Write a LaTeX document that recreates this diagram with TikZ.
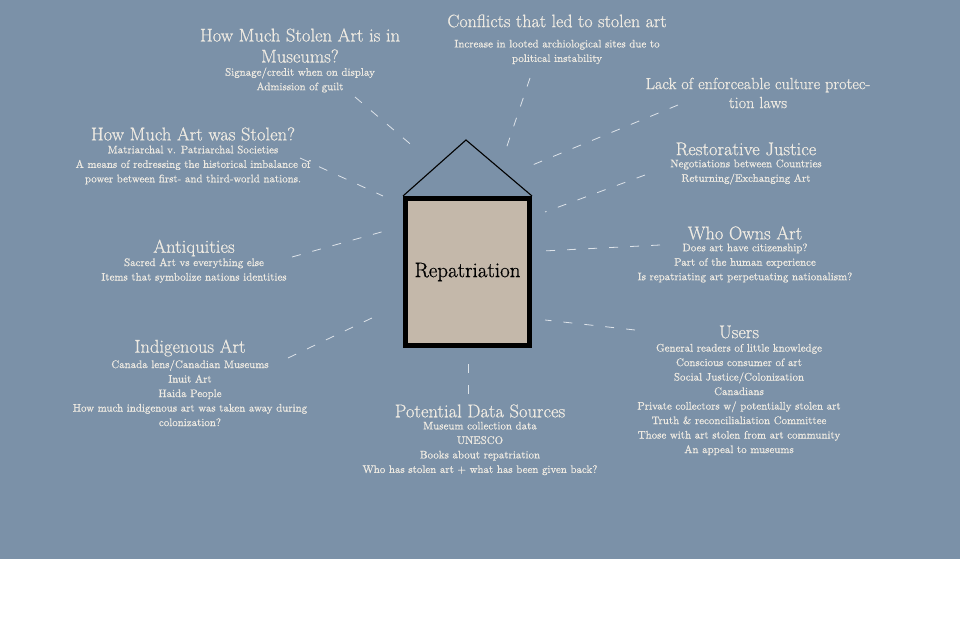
\documentclass[tikz,border=0pt]{standalone}
\usepackage{fontspec}
\setmainfont{Latin Modern Roman}[UprightFeatures={FakeBold=0.7}]
\definecolor{bg}{RGB}{123,145,168}
\definecolor{txt}{RGB}{238,234,226}
\definecolor{boxfill}{RGB}{196,184,170}
\tikzset{
  ttl/.style={text=txt, font=\fontsize{18.5}{21}\selectfont, align=center, inner sep=0pt},
  ttlsmall/.style={ttl, font=\fontsize{16.2}{19}\selectfont},
  sub/.style={text=txt, font=\fontsize{10.9}{14.5}\selectfont, align=center, inner sep=0pt},
  link/.style={draw=white, draw opacity=0.75, line width=0.8pt, dash pattern=on 9pt off 12pt},
  frame/.style={draw=black, line width=5pt, fill=boxfill, minimum width=124pt, minimum height=147pt, inner sep=0pt, font=\fontsize{21}{24}\selectfont, text=black},
}
\begin{document}
\begin{tikzpicture}[x=1pt,y=-1pt]
\useasboundingbox (0,0) rectangle (960,639);
\fill[white] (0,0) rectangle (960,639);
\fill[bg] (0,0) rectangle (960,559);

% central frame
\node[frame] (rep) at (467.5,272) {Repatriation};
\coordinate (apex) at (466,140);
\draw[black, line width=1.1pt] (rep.north west) -- (apex) -- (rep.north east);

% topics
\node[ttl] (t1) at (300,45.5) {How Much Stolen Art is in\\Museums?};
\node[sub] (s1) at (300,80) {Signage/credit when on display\\Admission of guilt};

\node[ttl, font=\fontsize{18}{21}\selectfont] (t2) at (557,21) {Conflicts that led to stolen art};
\node[sub] (s2) at (557,52) {Increase in looted archiological sites due to\\political instability};

\node[ttlsmall] (t3) at (758,93) {Lack of enforceable culture protec-\\tion laws};

\node[ttl] (t4) at (746,149) {Restorative Justice};
\node[sub] (s4) at (746,172) {Negotiations between Countries\\Returning/Exchanging Art};

\node[ttl] (t5) at (745,233) {Who Owns Art};
\node[sub] (s5) at (745,263) {Does art have citizenship?\\Part of the human experience\\Is repatriating art perpetuating nationalism?};

\node[ttl] (t6) at (739,332) {Users};
\node[sub] (s6) at (739,399.5) {General readers of little knowledge\\Conscious consumer of art\\Social Justice/Colonization\\Canadians\\Private collectors w/ potentially stolen art\\Truth \& reconcilialiation Committee\\Those with art stolen from art community\\An appeal to museums};

\node[ttl] (t7) at (480,411) {Potential Data Sources};
\node[sub] (s7) at (480,448.5) {Museum collection data\\UNESCO\\Books about repatriation\\Who has stolen art + what has been given back?};

\node[ttl] (t8) at (190,348) {Indigenous Art};
\node[sub] (s8) at (190,393) {Canada lens/Canadian Museums\\Inuit Art\\Haida People\\How much indigenous art was taken away during\\colonization?};

\node[ttl] (t9) at (194,248) {Antiquities};
\node[sub] (s9) at (194,270.5) {Sacred Art vs everything else\\Items that symbolize nations identities};

\node[ttl] (t10) at (193,134) {How Much Art was Stolen?};
\node[sub] (s10) at (193,165) {Matriarchal v. Patriarchal Societies\\A means of redressing the historical imbalance of\\power between first- and third-world nations.};

% dashed connectors
\coordinate (a1) at (355,97);  \coordinate (b1) at (415,148);
\coordinate (a2) at (530,78);  \coordinate (b2) at (505,152);
\coordinate (a3) at (678,105); \coordinate (b3) at (530,166);
\coordinate (a4) at (645,175); \coordinate (b4) at (545,212);
\coordinate (a5) at (660,245); \coordinate (b5) at (543,251);
\coordinate (a6) at (635,330); \coordinate (b6) at (545,320);
\coordinate (a7) at (468,394); \coordinate (b7) at (468,357);
\coordinate (a8) at (288,358); \coordinate (b8) at (374,317);
\coordinate (a9) at (292,257); \coordinate (b9) at (385,231);
\coordinate (a10) at (300,158); \coordinate (b10) at (383,196);
\foreach \i in {1,...,10} { \draw[link] (a\i) -- (b\i); }
\end{tikzpicture}
\end{document}
